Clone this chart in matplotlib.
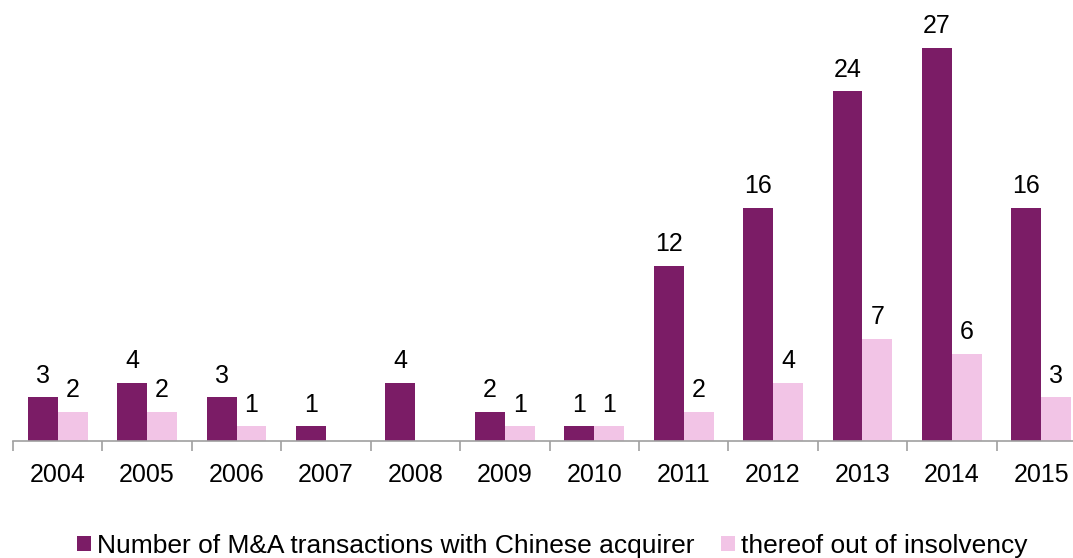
import numpy as np
import matplotlib.pyplot as plt

plt.rcParams['font.family'] = ['Liberation Sans', 'DejaVu Sans']

years = ['2004', '2005', '2006', '2007', '2008', '2009', '2010',
         '2011', '2012', '2013', '2014', '2015']
total = [3, 4, 3, 1, 4, 2, 1, 12, 16, 24, 27, 16]
insolvency = [2, 2, 1, None, None, 1, 1, 2, 4, 7, 6, 3]

purple = '#7B1C66'
pink = '#F2C4E6'

fig = plt.figure(figsize=(10.73, 5.58), dpi=100)
ax = fig.add_axes([13 / 1073, 117 / 558, 1073 / 1073, 437 / 558])

x = np.arange(len(years))
w = 0.335

ins = [np.nan if v is None else v for v in insolvency]
b1 = ax.bar(x - w / 2, total, w, color=purple,
            label='Number of M&A transactions with Chinese acquirer')
b2 = ax.bar(x + w / 2, ins, w, color=pink, label='thereof out of insolvency')

for xi, v in zip(x, total):
    ax.annotate(str(v), (xi - w / 2, v), xytext=(0, 7), textcoords='offset points',
                ha='center', va='bottom', fontsize=18)
for xi, v in zip(x, insolvency):
    if v is None:
        continue
    ax.annotate(str(v), (xi + w / 2, v), xytext=(0, 7), textcoords='offset points',
                ha='center', va='bottom', fontsize=18)

ax.set_xlim(-0.5, len(years) - 0.5)
ax.set_ylim(0, 30)
ax.set_yticks([])
for s in ['top', 'right', 'left']:
    ax.spines[s].set_visible(False)
ax.spines['bottom'].set_color('#A0A0A0')
ax.spines['bottom'].set_linewidth(1.2)

ax.set_xticks(x)
ax.set_xticklabels(years, fontsize=18)
ax.tick_params(axis='x', which='major', length=0, pad=16)
ax.set_xticks(np.arange(len(years)) - 0.5, minor=True)
ax.tick_params(axis='x', which='minor', length=7, color='#A0A0A0', width=1.2)

fig.legend(handles=[b1, b2], loc='center', bbox_to_anchor=(552 / 1073, 1 - 546 / 558),
           ncol=2, frameon=False, fontsize=19, handlelength=0.53, handleheight=0.53,
           handletextpad=0.23, columnspacing=1.0)

fig.savefig('out.png', dpi=100)
